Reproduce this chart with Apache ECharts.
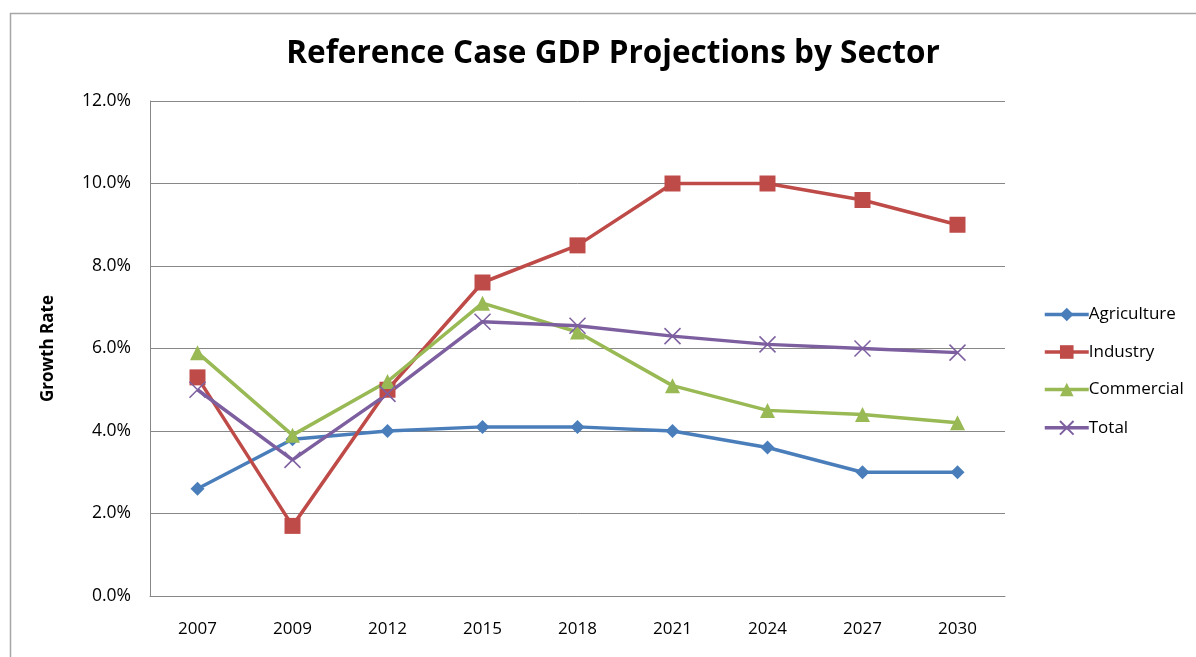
<!DOCTYPE html>
<html>
<head>
<meta charset="utf-8">
<script src="https://cdn.jsdelivr.net/npm/echarts@6/dist/echarts.min.js"></script>
<style>html,body{margin:0;padding:0;background:#fff}#c{width:1196px;height:657px}</style>
</head>
<body>
<div id="c"></div>
<script>
const years = ['2007','2009','2012','2015','2018','2021','2024','2027','2030'];
const agriculture = [2.6, 3.8, 4.0, 4.1, 4.1, 4.0, 3.6, 3.0, 3.0];
const industry = [5.3, 1.7, 5.0, 7.6, 8.5, 10.0, 10.0, 9.6, 9.0];
const commercial = [5.9, 3.9, 5.2, 7.1, 6.4, 5.1, 4.5, 4.4, 4.2];
const total = [5.0, 3.3, 4.9, 6.65, 6.55, 6.3, 6.1, 6.0, 5.9];
const seriesNames = ['Agriculture','Industry','Commercial','Total'];
const colors = ['#4a7ebb','#be4b48','#98b954','#7d5fa0'];
const symbols = ['diamond','rect','triangle','path://M0,0 L10,10 M10,0 L0,10'];
const symbolSizes = [14, 16, 15, 16];

const chart = echarts.init(document.getElementById('c'));
const font = 'Open Sans, Noto Sans, sans-serif';
const dataList = [agriculture, industry, commercial, total];
chart.setOption({
  animation: false,
  graphic: [{type:'rect', shape:{x:10.5,y:13.5,width:1300,height:800}, style:{fill:'none', stroke:'#a6a6a6', lineWidth:1.5}, z:-1}],
  title: {text:'Reference Case GDP Projections by Sector', left: 608, top: 33, textAlign:'center',
    textStyle:{fontFamily:font, fontWeight:'bold', fontSize:31.5, color:'#000'}},
  color: colors,
  legend: {orient:'vertical', left: 1038, top: 301, itemGap: 20.5, itemWidth: 44, itemHeight: 17,
    lineStyle:{width:3.5},
    textStyle:{fontFamily:font, fontSize:17, color:'#000', padding:[0,0,0,-5]},
    data: seriesNames},
  grid: {left:150, top:101, right:191, bottom:61},
  xAxis: {type:'category', data: years, boundaryGap:true,
    axisLine:{lineStyle:{color:'#878787'}}, axisTick:{show:false},
    axisLabel:{fontFamily:font, fontSize:17, color:'#000', margin:25}},
  yAxis: {type:'value', min:0, max:12, interval:2,
    name:'Growth Rate', nameLocation:'middle', nameGap:93, nameRotate:90,
    nameTextStyle:{fontFamily:font, fontWeight:'bold', fontSize:17, color:'#000'},
    axisLine:{show:true, lineStyle:{color:'#878787'}}, axisTick:{show:false},
    splitLine:{lineStyle:{color:'#878787'}},
    axisLabel:{fontFamily:font, fontSize:17.5, color:'#000', margin:19, formatter: v => v.toFixed(1)+'%'}},
  series: seriesNames.map((n,i)=>({
    name:n, type:'line', data: dataList[i], symbol: symbols[i], symbolSize: symbolSizes[i],
    lineStyle:{width:3.5, color: colors[i]},
    itemStyle: i===3 ? {color:'none', borderColor: colors[i], borderWidth:1.5} : {color: colors[i]},
  }))
});
</script>
</body>
</html>
